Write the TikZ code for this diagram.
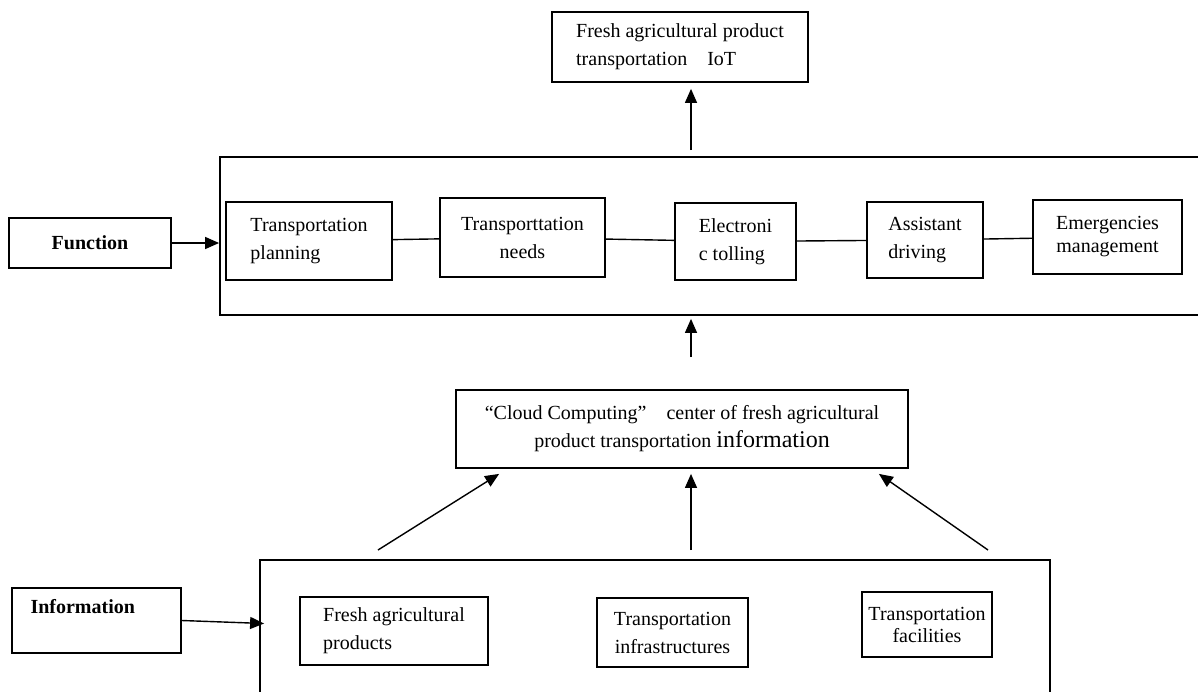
\documentclass[tikz,border=0pt]{standalone}
\usepackage{fontspec}
\setmainfont{Liberation Serif}
\usetikzlibrary{arrows.meta, calc}

\begin{document}
\begin{tikzpicture}[x=0.5pt, y=-0.5pt,
    box/.style={draw, line width=0.9pt, inner sep=2pt, font=\fontsize{10}{14}\selectfont},
    frame/.style={draw, line width=0.9pt},
    link/.style={line width=0.7pt},
    arr/.style={line width=0.7pt, -{Triangle[length=7pt,width=6pt]}}]
    \clip (0,0) rectangle (1198,691);
    % function part
    \node[box, align=left, minimum width=128pt, minimum height=35pt] (iot) at (680,47) {Fresh agricultural product\\transportation\quad IoT};
    \node[frame, minimum width=497.5pt, minimum height=79pt] (funcs) at (717.5,236) {};
    \node[box, minimum width=81pt, minimum height=25pt, font=\fontsize{10}{14}\selectfont\bfseries] (func) at (90,243) {Function};
    \node[box, align=left, minimum width=83pt, minimum height=39pt] (plan) at (309,241) {Transportation\\planning};
    \node[box, align=center, minimum width=82.5pt, minimum height=39.5pt] (needs) at (522.5,237.5) {Transporttation\\needs};
    \node[box, align=left, minimum width=60.5pt, minimum height=38.5pt] (toll) at (735.5,241.5) {Electroni\\c tolling};
    \node[box, align=left, minimum width=58pt, minimum height=38pt] (assist) at (925,240) {Assistant\\driving};
    \node[box, align=center, minimum width=74.5pt, minimum height=37pt, font=\fontsize{10}{11.5}\selectfont] (emerg) at (1107.5,237) {Emergencies\\management};
    % cloud center
    \node[box, align=center, minimum width=226pt, minimum height=39pt] (cloud) at (682,429) {“Cloud Computing”\quad center of fresh agricultural\\product transportation {\fontsize{12}{14}\selectfont information}};
    % information part
    \node[frame, minimum width=395pt, minimum height=80pt] (infos) at (655,640) {};
    \node[box, align=left, text width=66pt, minimum width=84.5pt, minimum height=32.5pt, font=\fontsize{10}{14}\selectfont\bfseries] (info) at (96.5,620.5) {Information\\\mbox{}};
    \node[box, align=left, minimum width=94pt, minimum height=34pt] (fresh) at (394,631) {Fresh agricultural\\products};
    \node[box, align=center, minimum width=75.5pt, minimum height=34.5pt] (infra) at (672.5,632.5) {Transportation\\infrastructures};
    \node[box, align=center, minimum width=65pt, minimum height=32.5pt, font=\fontsize{10}{11}\selectfont] (facil) at (927,624.5) {Transportation\\facilities};
    \coordinate (t0) at (691,150);
    \coordinate (m0) at (691,357);
    \coordinate (b1) at (378,550);
    \coordinate (b2) at (691,550);
    \coordinate (b3) at (988,550);
    \draw[link] (plan) -- (needs);
    \draw[link] (needs) -- (toll);
    \draw[link] (toll) -- (assist);
    \draw[link] (assist) -- (emerg);
    \draw[arr] (func.east) -- (func.east -| funcs.west);
    \draw[arr] (info.east) -- ($(info.east -| infos.west)+(5,3)$);
    \draw[arr, shorten >=3pt] (t0) -- (t0 |- iot.south);
    \draw[arr, shorten >=1.5pt] (m0) -- (m0 |- funcs.south);
    \draw[arr] (b1) -- ($(cloud.south west)+(44,5)$);
    \draw[arr, shorten >=2.5pt] (b2) -- (b2 |- cloud.south);
    \draw[arr] (b3) -- ($(cloud.south east)+(-30,5)$);
\end{tikzpicture}
\end{document}
